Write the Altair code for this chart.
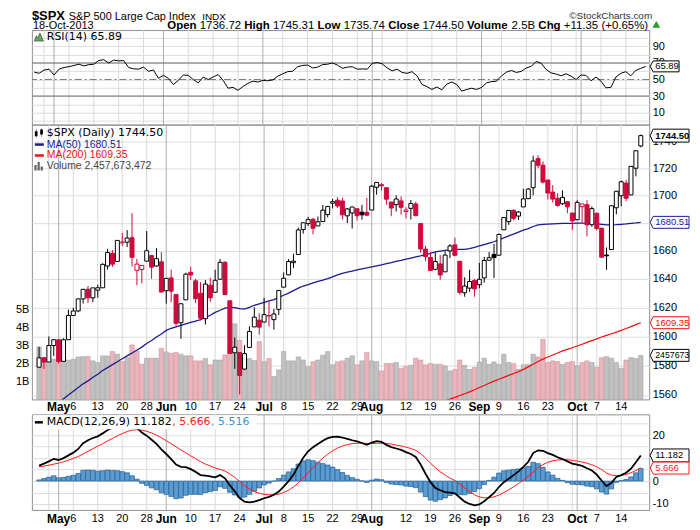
import altair as alt
import pandas as pd

# ---------------- values ----------------
open_ = [1578.78, 1585.16, 1582.34, 1593.58, 1597.55, 1582.77, 1597.60, 1614.40, 1617.55, 1625.95,
         1632.69, 1626.69, 1632.10, 1633.75, 1649.13, 1658.07, 1652.45, 1665.71, 1666.20, 1669.39,
         1646.08, 1646.67, 1652.63, 1656.57, 1649.14, 1652.13, 1631.71, 1640.73, 1629.05, 1609.29,
         1625.27, 1644.67, 1638.64, 1629.94, 1612.15, 1635.52, 1630.64, 1639.77, 1651.83, 1624.62,
         1588.62, 1588.77, 1577.52, 1592.27, 1606.44, 1611.12, 1609.78, 1614.29, 1611.48, 1618.65,
         1634.20, 1642.89, 1651.56, 1657.41, 1675.26, 1679.59, 1682.70, 1677.91, 1681.05, 1686.15,
         1694.41, 1696.63, 1696.06, 1685.21, 1687.31, 1690.32, 1687.92, 1687.76, 1689.42, 1706.10,
         1708.01, 1705.79, 1695.30, 1693.35, 1696.10, 1688.37, 1690.65, 1693.88, 1679.61, 1661.22,
         1655.25, 1646.81, 1650.66, 1645.03, 1659.92, 1664.29, 1652.54, 1630.25, 1633.50, 1638.89,
         1635.95, 1640.72, 1653.28, 1657.44, 1656.85, 1675.11, 1681.04, 1689.21, 1685.04, 1691.70,
         1697.73, 1705.74, 1727.34, 1722.44, 1711.44, 1702.60, 1698.02, 1694.05, 1695.52, 1687.26,
         1682.41, 1691.90, 1693.35, 1678.79, 1687.15, 1676.22, 1656.99, 1660.88, 1691.09, 1699.86,
         1709.17, 1700.49, 1720.17, 1736.72]
high = [1592.64, 1585.78, 1599.85, 1597.57, 1597.55, 1598.60, 1618.46, 1619.77, 1626.03, 1632.78,
        1635.01, 1633.70, 1636.00, 1651.10, 1661.49, 1660.51, 1667.47, 1672.84, 1674.93, 1687.18,
        1654.19, 1649.78, 1674.21, 1656.57, 1661.91, 1658.99, 1640.42, 1646.53, 1629.31, 1622.56,
        1644.40, 1648.69, 1640.13, 1637.71, 1639.25, 1640.80, 1646.50, 1654.19, 1652.45, 1624.62,
        1599.19, 1588.77, 1593.79, 1606.83, 1620.07, 1615.94, 1626.61, 1624.26, 1618.97, 1632.07,
        1644.68, 1654.18, 1657.92, 1676.63, 1680.19, 1684.51, 1683.73, 1684.75, 1693.12, 1692.09,
        1697.61, 1698.78, 1698.38, 1690.94, 1691.85, 1690.92, 1693.19, 1698.43, 1707.85, 1709.67,
        1709.24, 1705.79, 1695.30, 1700.18, 1699.42, 1691.49, 1696.81, 1695.52, 1679.61, 1663.60,
        1659.18, 1658.92, 1656.99, 1659.55, 1664.85, 1669.51, 1652.54, 1641.18, 1646.41, 1640.08,
        1651.35, 1655.72, 1659.17, 1664.83, 1672.40, 1684.09, 1689.13, 1689.97, 1688.73, 1704.95,
        1705.52, 1729.44, 1729.86, 1725.23, 1711.44, 1707.63, 1701.71, 1703.85, 1695.52, 1687.26,
        1696.55, 1693.87, 1696.63, 1691.94, 1687.15, 1676.79, 1662.40, 1692.56, 1703.44, 1711.03,
        1711.57, 1721.76, 1733.45, 1745.31]
low = [1578.78, 1577.56, 1582.34, 1586.50, 1581.28, 1582.77, 1597.60, 1614.21, 1616.64, 1622.70,
       1623.09, 1623.71, 1626.74, 1633.75, 1646.68, 1648.60, 1652.45, 1663.52, 1662.67, 1648.86,
       1635.53, 1636.88, 1652.63, 1640.05, 1648.61, 1630.74, 1622.72, 1623.62, 1607.09, 1598.23,
       1625.27, 1639.26, 1622.92, 1610.92, 1608.07, 1623.96, 1630.34, 1639.77, 1628.91, 1588.09,
       1577.70, 1560.33, 1577.09, 1592.27, 1606.44, 1601.06, 1609.78, 1606.77, 1604.57, 1614.71,
       1634.20, 1642.89, 1647.66, 1657.41, 1672.33, 1677.89, 1671.84, 1677.91, 1681.05, 1684.08,
       1690.67, 1691.13, 1682.57, 1680.07, 1676.03, 1681.86, 1682.42, 1684.94, 1689.42, 1700.68,
       1703.55, 1693.29, 1684.91, 1688.38, 1686.02, 1683.35, 1682.62, 1684.83, 1658.59, 1652.61,
       1646.06, 1646.08, 1639.43, 1645.03, 1654.81, 1656.02, 1629.05, 1627.47, 1630.88, 1627.47,
       1633.41, 1637.41, 1653.07, 1640.62, 1656.85, 1675.11, 1678.70, 1681.96, 1682.22, 1691.70,
       1697.73, 1700.18, 1720.20, 1708.89, 1697.10, 1694.90, 1691.88, 1693.11, 1687.11, 1674.99,
       1682.07, 1680.34, 1670.36, 1677.33, 1674.70, 1655.03, 1646.47, 1660.88, 1686.26, 1692.13,
       1695.93, 1700.49, 1714.12, 1735.74]
close = [1585.16, 1582.24, 1593.61, 1597.57, 1582.70, 1597.59, 1614.42, 1617.50, 1625.96, 1632.69,
         1626.67, 1633.70, 1633.77, 1650.34, 1658.78, 1650.47, 1667.47, 1666.29, 1669.16, 1655.35,
         1650.51, 1649.60, 1660.06, 1648.36, 1654.41, 1630.74, 1640.42, 1631.38, 1608.90, 1622.56,
         1643.38, 1642.81, 1626.13, 1612.52, 1636.36, 1626.73, 1639.04, 1651.81, 1628.93, 1588.19,
         1592.43, 1573.09, 1588.03, 1603.26, 1613.20, 1606.28, 1614.96, 1614.08, 1615.41, 1631.89,
         1640.46, 1652.32, 1652.62, 1675.02, 1680.19, 1682.50, 1676.26, 1680.91, 1689.37, 1692.09,
         1695.53, 1692.39, 1685.94, 1690.25, 1691.65, 1685.33, 1685.96, 1685.73, 1706.87, 1709.67,
         1707.14, 1697.37, 1690.91, 1697.48, 1691.42, 1689.47, 1694.16, 1685.39, 1661.32, 1655.83,
         1646.06, 1652.35, 1642.80, 1656.96, 1663.50, 1656.78, 1630.48, 1634.96, 1638.17, 1632.97,
         1639.77, 1653.08, 1655.08, 1655.17, 1671.71, 1683.99, 1689.13, 1683.42, 1687.99, 1697.60,
         1704.76, 1725.52, 1722.34, 1709.91, 1701.84, 1697.42, 1692.77, 1698.67, 1691.75, 1681.55,
         1695.00, 1693.87, 1678.66, 1690.50, 1676.12, 1655.45, 1656.40, 1692.56, 1703.20, 1710.14,
         1698.06, 1721.54, 1733.15, 1744.50]
PREV_CLOSE = 1578.79  # close of the day before the first candle

volume_bn = [2.93, 2.33, 2.15, 2.24, 2.60, 2.19, 2.19, 2.24, 2.37, 2.39,
             2.39, 2.15, 2.06, 2.43, 2.43, 2.67, 2.52, 2.11, 2.33, 3.04,
             2.70, 1.96, 2.30, 2.30, 2.30, 2.85, 2.65, 2.57, 2.61, 2.52,
             2.43, 2.43, 2.15, 2.15, 2.28, 1.93, 2.20, 2.20, 2.48, 2.74,
             4.22, 3.30, 2.43, 2.28, 2.17, 3.22, 2.10, 2.28, 1.28, 1.65,
             2.67, 2.15, 2.15, 2.37, 2.20, 1.83, 2.10, 2.20, 2.46, 2.67,
             1.93, 2.10, 2.15, 2.30, 2.43, 1.93, 2.15, 2.61, 2.15, 2.11,
             1.59, 2.00, 2.00, 2.06, 1.74, 1.85, 1.90, 2.30, 2.20, 1.93,
             2.00, 1.96, 1.96, 1.87, 1.59, 1.67, 2.20, 1.90, 1.67, 1.78,
             2.09, 2.30, 1.96, 2.09, 1.96, 2.52, 2.06, 2.00, 1.67, 1.93,
             1.96, 2.52, 2.37, 3.35, 2.06, 2.15, 2.11, 1.96, 2.06, 2.11,
             1.87, 2.06, 2.15, 2.06, 1.78, 2.33, 2.39, 2.30, 2.06, 1.74,
             2.20, 2.33, 2.28, 2.457673472]

ma50 = [1547.0, 1549.0, 1551.5, 1553.5, 1555.0, 1557.5, 1560.0, 1562.5, 1565.0, 1567.5,
        1569.5, 1572.0, 1574.0, 1576.5, 1578.5, 1580.5, 1582.5, 1584.5, 1586.5, 1588.5,
        1590.5, 1592.5, 1595.0, 1597.0, 1599.5, 1601.5, 1604.0, 1605.5, 1606.5, 1607.5,
        1608.5, 1609.5, 1610.5, 1611.5, 1613.0, 1614.5, 1616.5, 1618.0, 1619.5, 1620.0,
        1619.8, 1619.2, 1618.8, 1620.0, 1621.5, 1622.5, 1623.5, 1624.5, 1625.5, 1627.0,
        1628.5, 1630.0, 1631.8, 1633.5, 1635.0, 1636.0, 1637.2, 1638.2, 1639.2, 1640.3,
        1641.5, 1642.8, 1644.0, 1644.8, 1645.5, 1646.5, 1647.2, 1647.8, 1648.5, 1649.3,
        1650.0, 1650.8, 1651.6, 1652.5, 1653.2, 1654.0, 1654.8, 1655.6, 1656.4, 1657.3,
        1658.2, 1659.2, 1659.8, 1660.3, 1660.7, 1661.0, 1661.0, 1661.0, 1661.6, 1662.5,
        1663.5, 1664.5, 1665.5, 1666.5, 1668.0, 1669.3, 1670.7, 1672.0, 1673.4, 1674.8,
        1676.0, 1677.5, 1678.6, 1679.0, 1679.2, 1679.4, 1679.6, 1679.7, 1679.8, 1679.8,
        1679.9, 1679.9, 1679.8, 1679.8, 1679.5, 1679.1, 1678.7, 1678.6, 1678.8, 1679.1,
        1679.4, 1679.8, 1680.1, 1680.51]

MA200_START = 80  # first index at which the 200-day line is drawn
ma200 = [1552.5, 1553.6, 1554.8, 1556.0, 1557.2, 1558.4, 1559.6, 1560.8, 1562.1, 1563.5,
         1565.0, 1566.4, 1567.9, 1569.3, 1570.6, 1571.9, 1573.2, 1574.5, 1575.8, 1577.3,
         1579.0, 1580.8, 1582.6, 1584.3, 1585.7, 1587.1, 1588.5, 1589.9, 1591.0, 1592.1,
         1593.3, 1594.5, 1595.8, 1597.0, 1598.2, 1599.5, 1600.6, 1601.7, 1602.8, 1604.0,
         1605.3, 1606.6, 1608.0, 1609.35]

rsi = [59, 57.5, 61.5, 62.5, 55.5, 62.5, 64.5, 65.5, 67, 68.5,
       66.5, 68, 68.5, 73, 74, 70, 73.5, 72.5, 73, 64.5,
       63, 62.5, 65, 60, 61.5, 51.5, 55, 51.5, 44, 49,
       55.5, 55, 50, 46, 53, 50, 53, 56, 49, 39.5,
       40.5, 37, 41.5, 45.5, 48, 47, 49, 48.5, 49.5, 54,
       57, 59.5, 60, 65.5, 67, 67.5, 64, 65, 68, 68.5,
       70, 67.5, 63.5, 65, 65.5, 62.5, 62.8, 62.5, 69.5, 70.5,
       69, 64, 60.5, 62.5, 58.5, 57.5, 59.5, 54.5, 44, 41.5,
       38, 41, 37.5, 44.5, 47, 44, 36, 38, 39.5, 38,
       40.5, 46, 47.5, 48, 54.5, 59, 61, 58.5, 60, 64,
       66, 72, 69.5, 62, 58, 56.5, 54.5, 57, 54, 50,
       55.5, 55, 48.5, 53, 48, 40, 40.5, 53, 57.5, 59.5,
       54.5, 61, 63.5, 65.89]

macd = [6.7, 7.6, 8.6, 9.7, 9.2, 10.0, 11.2, 12.4, 14.0, 16.5,
        17.8, 18.8, 19.5, 20.8, 22.3, 23.2, 24.2, 24.8, 25.2, 24.5,
        23.2, 21.2, 19.8, 18.0, 16.2, 13.8, 11.8, 9.6, 7.2, 6.2,
        6.1, 5.2, 4.0, 2.6, 2.4, 2.0, 1.6, 2.6, 1.2, -1.8,
        -4.5, -7.4, -9.0, -9.3, -9.0, -8.3, -7.5, -6.9, -6.0, -4.6,
        -2.4, 0.0, 2.8, 6.6, 10.2, 13.0, 14.8, 16.2, 17.6, 18.7,
        19.3, 19.4, 19.0, 18.4, 17.8, 17.3, 16.6, 15.8, 16.8, 17.4,
        17.1, 15.8, 14.8, 14.2, 13.6, 12.6, 11.8, 10.5, 7.2, 3.2,
        -0.5, -3.0, -4.0, -4.8, -5.0, -5.4, -7.2, -9.0, -10.0, -10.6,
        -10.2, -8.8, -7.0, -5.2, -2.6, -0.5, 1.0, 2.6, 4.2, 6.2,
        8.4, 12.2, 13.4, 13.2, 12.2, 11.4, 10.4, 9.6, 8.6, 7.6,
        7.2, 6.6, 5.6, 4.6, 2.8, 0.2, -2.2, -0.8, 1.8, 2.6,
        3.6, 5.4, 8.2, 11.182]
signal = [6.2, 6.5, 6.9, 7.4, 7.8, 8.4, 9.1, 9.9, 10.7, 11.8,
          13.0, 14.1, 15.2, 16.3, 17.5, 18.6, 19.7, 20.7, 21.6, 22.2,
          22.4, 22.2, 21.7, 21.0, 20.0, 18.9, 17.6, 16.3, 14.9, 13.6,
          12.3, 11.0, 9.8, 8.5, 7.4, 6.6, 5.7, 5.1, 4.4, 3.1,
          1.6, -0.2, -2.0, -3.5, -4.6, -5.3, -5.8, -6.0, -6.0, -5.7,
          -5.0, -4.0, -2.6, -0.8, 1.4, 3.7, 5.9, 8.0, 10.0, 11.7,
          13.2, 14.4, 15.3, 15.9, 16.3, 16.5, 16.5, 16.4, 16.4, 16.5,
          16.5, 16.4, 16.1, 15.7, 15.3, 14.8, 14.2, 13.4, 12.0, 10.0,
          7.8, 5.8, 4.1, 2.6, 1.3, 0.2, -1.3, -3.0, -4.6, -6.0,
          -6.9, -7.3, -7.3, -6.9, -6.1, -5.0, -3.8, -2.5, -1.1, 0.4,
          2.0, 4.0, 5.8, 7.2, 8.2, 8.8, 9.2, 9.3, 9.3, 9.0,
          8.7, 8.3, 7.8, 7.1, 6.2, 5.0, 3.5, 2.6, 2.4, 2.4,
          2.9, 3.6, 4.6, 5.666]
histogram = [0.5, 1.1, 1.7, 2.3, 1.4, 1.6, 2.1, 2.5, 3.3, 4.7,
             4.8, 4.7, 4.3, 4.5, 4.8, 4.6, 4.5, 4.1, 3.6, 2.3,
             0.8, -1.0, -1.9, -3.0, -3.8, -5.1, -5.8, -6.7, -7.7, -7.4,
             -6.2, -5.8, -5.8, -5.9, -5.0, -4.6, -4.1, -2.5, -3.2, -4.9,
             -6.1, -7.2, -7.0, -5.8, -4.4, -3.0, -1.7, -0.9, 0.0, 1.1,
             2.6, 4.0, 5.4, 7.4, 8.8, 9.3, 8.9, 8.2, 7.6, 7.0,
             6.1, 5.0, 3.7, 2.5, 1.5, 0.8, 0.1, -0.6, 0.4, 0.9,
             0.6, -0.6, -1.3, -1.5, -1.7, -2.2, -2.4, -2.9, -4.8, -6.8,
             -8.3, -8.8, -8.1, -7.4, -6.3, -5.6, -5.9, -6.0, -5.4, -4.6,
             -3.3, -1.5, 0.3, 1.7, 3.5, 4.5, 4.8, 5.1, 5.3, 5.8,
             6.4, 8.2, 7.6, 6.0, 4.0, 2.6, 1.2, 0.3, -0.7, -1.4,
             -1.5, -1.7, -2.2, -2.5, -3.4, -4.8, -5.7, -3.4, -0.6, 0.2,
             0.7, 1.8, 3.6, 5.516]

week_ticks = [2, 7, 12, 17, 22, 31, 36, 41, 50, 55, 60, 65, 70, 75, 80, 85, 94, 99, 104, 109, 114, 119]
month_ticks = [4, 26, 46, 68, 90, 110]
tick_idx = [4, 7, 12, 17, 22, 26, 31, 36, 41, 46, 50, 55, 60, 65, 68, 75, 80, 85, 90, 94, 99, 104, 110, 114, 119]
tick_txt = ["May", "6", "13", "20", "28", "Jun", "10", "17", "24", "Jul", "8", "15", "22", "29", "Aug",
            "12", "19", "26", "Sep", "9", "16", "23", "Oct", "7", "14"]
month_names = ["May", "Jun", "Jul", "Aug", "Sep", "Oct"]

header_tokens = [("Open", True), ("1736.72", False), ("High", True), ("1745.31", False),
                 ("Low", True), ("1735.74", False), ("Close", True), ("1744.50", False),
                 ("Volume", True), ("2.5B", False), ("Chg", True), ("+11.35 (+0.65%)", False)]

# ---------------- styling ----------------
W, H_RSI, H_MAIN, H_GAP, H_MACD = 620, 95, 276, 15, 96
FONT = "DejaVu Sans"
AXF = "Liberation Sans"
RED = "#cf0a3c"
NAVY = "#1b1b8f"
MA200C = "#ee1111"
HBLUE = "#5a9bd2"

X_S = alt.Scale(domain=[-0.45, 123.7], nice=False, zero=False)
RSI_S = alt.Scale(domain=[-4.5, 109.8], nice=False, zero=False)
PRICE_S = alt.Scale(type="log", domain=[1557, 1752.8], nice=False)
VOL_S = alt.Scale(domain=[0, 15.33e9], nice=False, zero=False)
MACD_S = alt.Scale(domain=[-12.6, 29.1], nice=False, zero=False)

n = len(close)
prev = [PREV_CLOSE] + close[:-1]
down = [c < p for c, p in zip(close, prev)]
df = pd.DataFrame({
    "i": list(range(n)), "o": open_, "h": high, "l": low, "c": close,
    "vol": [v * 1e9 for v in volume_bn], "ma50": ma50, "rsi": rsi,
    "macd": macd, "sig": signal, "hist": histogram,
})
df["col"] = [RED if d else "#000000" for d in down]
df["body"] = [col if c < o else "#ffffff" for col, c, o in zip(df["col"], close, open_)]
df["vfill"] = ["#e8b7bd" if d else "#c1c1c1" for d in down]
df["vline"] = ["#d98d98" if d else "#a3a3a3" for d in down]

ma200_df = pd.DataFrame({"i": list(range(MA200_START, MA200_START + len(ma200))), "v": ma200})
grid_df = pd.DataFrame({"i": week_ticks + month_ticks,
                        "gc": ["#dadada"] * len(week_ticks) + ["#acacac"] * len(month_ticks)})
lab_df = pd.DataFrame({"i": tick_idx, "t": tick_txt})
lab_df["b"] = lab_df["t"].isin(month_names)
ONE = pd.DataFrame({"k": [0]})

# approximate Arial (Liberation Sans) advance widths, in em, for laying out the header tokens
W_REG = {**{d: 0.556 for d in "0123456789"}, ".": 0.278, "+": 0.584, "(": 0.333, ")": 0.333,
         "%": 0.889, " ": 0.278, "B": 0.667}
W_BOLD = {"O": 0.778, "p": 0.611, "e": 0.556, "n": 0.611, "H": 0.722, "i": 0.278, "g": 0.611,
          "h": 0.611, "L": 0.611, "o": 0.611, "w": 0.778, "C": 0.722, "l": 0.278, "s": 0.556,
          "V": 0.667, "u": 0.611, "m": 0.889}


def X():
    return alt.X("i:Q", scale=X_S, axis=None)


def vgrid():
    return alt.Chart(grid_df).mark_rule(strokeWidth=1).encode(x=X(), color=alt.Color("gc:N", scale=None))


def label(text, x, y, size=11, weight="normal", color="#000000", font=FONT, align="left", baseline="middle"):
    return alt.Chart(ONE).mark_text(text=text, fontSize=size, fontWeight=weight, color=color, font=font,
                                    align=align, baseline=baseline).encode(x=alt.value(x), y=alt.value(y))


def icon(path, x, y, s, fill, stroke=None):
    kw = dict(shape=path, size=(2 * s) ** 2, filled=True, fill=fill, opacity=1)
    if stroke:
        kw.update(stroke=stroke, strokeWidth=0.8)
    return alt.Chart(ONE).mark_point(**kw).encode(x=alt.value(x), y=alt.value(y))


def tag(value, text, color, scale, xc, s, half_h, tip_px, text_x, size=9.5, weight="normal"):
    d = pd.DataFrame({"v": [value]})
    hh = half_h / s
    tip = 1 + tip_px / s
    path = f"M{-tip:.3f},0L-1,{-hh:.3f}L1,{-hh:.3f}L1,{hh:.3f}L-1,{hh:.3f}Z"
    box = alt.Chart(d).mark_point(shape=path, size=(2 * s) ** 2, filled=True, fill="white", stroke=color,
                                  strokeWidth=1, opacity=1).encode(
        x=alt.value(xc), y=alt.Y("v:Q", scale=scale, axis=None))
    t = alt.Chart(d).mark_text(text=text, align="left", baseline="middle", fontSize=size, fontWeight=weight,
                               color=color, font=AXF).encode(
        x=alt.value(text_x), y=alt.Y("v:Q", scale=scale, axis=None))
    return [box, t]


def xlabels(y):
    b = alt.Chart(lab_df[lab_df["b"]]).mark_text(font=AXF, fontSize=12, fontWeight="bold", baseline="middle",
                                                 color="#000").encode(x=X(), y=alt.value(y), text="t:N")
    r = alt.Chart(lab_df[~lab_df["b"]]).mark_text(font=AXF, fontSize=11, baseline="middle",
                                                  color="#000").encode(x=X(), y=alt.value(y), text="t:N")
    return [b, r]


# tag geometry (pixels from the panel's left edge): box 624..660, arrow tip at 621
TAG_C, TAG_S, TAG_TX = 642, 18, 626

# ---------------- RSI panel (with page header) ----------------
rsi_axis = alt.Axis(orient="right", values=list(range(0, 101, 10)),
                    labelExpr="datum.value % 20 == 10 ? datum.label : ''", grid=True, gridColor="#dddddd",
                    ticks=False, domain=False, labelPadding=3, title=None)
rsi_layers = [
    vgrid(),
    alt.Chart(pd.DataFrame({"v": [70, 30]})).mark_rule(color="#6e6e6e", strokeWidth=1).encode(
        y=alt.Y("v:Q", scale=RSI_S, axis=None)),
    alt.Chart(pd.DataFrame({"v": [50]})).mark_rule(color="#7a7a7a", strokeWidth=1, strokeDash=[7, 3, 2, 3]).encode(
        y=alt.Y("v:Q", scale=RSI_S, axis=None)),
    alt.Chart(df).mark_line(color="black", strokeWidth=1, clip=True).encode(
        x=X(), y=alt.Y("rsi:Q", scale=RSI_S, axis=rsi_axis)),
    icon("M-1,0.9L-0.55,-0.3L-0.25,0.2L0.25,-0.9L1,0.9Z", 7, 7, 4.5, "#6f9c6f", "#3b6b3b"),
    label("RSI(14) 65.89", 15, 7.5, 11),
    # header
    label("$SPX", 0, -10.5, 13, "bold", font=AXF, baseline="alphabetic"),
    label("S&P 500 Large Cap Index", 37, -10.5, 11, font=AXF, baseline="alphabetic"),
    label("INDX", 171, -10.5, 10, font=AXF, baseline="alphabetic"),
    label("\u00a9StockCharts.com", 623, -11, 10, color="#333333", font=AXF, align="right", baseline="alphabetic"),
    label("18-Oct-2013", 1, -1.5, 11, font=AXF, baseline="alphabetic"),
]
HDR_SIZE = 11.5
hx = 136.0
for text, bold in header_tokens:
    table = W_BOLD if bold else W_REG
    rsi_layers.append(label(text, round(hx, 1), -1.5, HDR_SIZE, "bold" if bold else "normal", font=AXF,
                            baseline="alphabetic"))
    hx += sum(table.get(ch, 0.6) for ch in text) * HDR_SIZE + 0.278 * HDR_SIZE
rsi_layers.append(icon("M-1,0.8L0,-0.9L1,0.8Z", round(hx + 4, 1), -5.5, 4, "#2e9a2e"))
rsi_layers += tag(65.89, "65.89", "#000000", RSI_S, 637, 13, 5.5, 3, TAG_TX, 9.5)

rsi_panel = alt.layer(*rsi_layers).resolve_scale(y="independent").properties(width=W, height=H_RSI)

# ---------------- main price panel ----------------
price_axis = alt.Axis(orient="right", values=list(range(1560, 1741, 20)), labelExpr="'' + datum.value",
                      grid=True, gridColor="#dddddd", ticks=False, domain=False, labelPadding=3, title=None)
vol_axis = alt.Axis(orient="left", values=[1e9, 2e9, 3e9, 4e9, 5e9], labelExpr="(datum.value / 1e9) + 'B'",
                    grid=False, ticks=False, domain=False, labelPadding=3, title=None)
main_layers = [
    vgrid(),
    alt.Chart(df).mark_bar(size=4.4, strokeWidth=0.6).encode(
        x=X(), y=alt.Y("vol:Q", scale=VOL_S, axis=vol_axis), y2=alt.datum(0),
        fill=alt.Fill("vfill:N", scale=None), stroke=alt.Stroke("vline:N", scale=None)),
    alt.Chart(ma200_df).mark_line(color=MA200C, strokeWidth=1.2, clip=True).encode(
        x=X(), y=alt.Y("v:Q", scale=PRICE_S, axis=None)),
    alt.Chart(df).mark_line(color=NAVY, strokeWidth=1.3, clip=True).encode(
        x=X(), y=alt.Y("ma50:Q", scale=PRICE_S, axis=None)),
    alt.Chart(df).mark_rule(strokeWidth=1, clip=True).encode(
        x=X(), y=alt.Y("l:Q", scale=PRICE_S, axis=None), y2="h:Q", color=alt.Color("col:N", scale=None)),
    alt.Chart(df).mark_bar(size=4, strokeWidth=1, clip=True).encode(
        x=X(), y=alt.Y("o:Q", scale=PRICE_S, axis=price_axis), y2="c:Q",
        fill=alt.Fill("body:N", scale=None), stroke=alt.Stroke("col:N", scale=None)),
    icon("M-0.9,-0.4L-0.3,-0.4L-0.3,0.7L-0.9,0.7Z M0.3,-0.8L0.9,-0.8L0.9,0.3L0.3,0.3Z M-0.65,-0.9L-0.55,-0.9L-0.55,1L-0.65,1Z M0.55,-1L0.65,-1L0.65,0.8L0.55,0.8Z",
         7, 8.5, 4.5, "#000000"),
    label("$SPX (Daily) 1744.50", 15, 8.5, 11),
    alt.Chart(ONE).mark_rule(color=NAVY, strokeWidth=2.5).encode(x=alt.value(3), x2=alt.value(12), y=alt.value(20)),
    label("MA(50) 1680.51", 15, 20, 10.5, color=NAVY, font=AXF),
    alt.Chart(ONE).mark_rule(color=MA200C, strokeWidth=2.5).encode(x=alt.value(3), x2=alt.value(12), y=alt.value(31)),
    label("MA(200) 1609.35", 15, 31, 10.5, color=MA200C, font=AXF),
    icon("M-1,1L-1,-0.2L-0.5,-0.2L-0.5,1Z M-0.3,1L-0.3,-0.9L0.2,-0.9L0.2,1Z M0.4,1L0.4,0.1L0.9,0.1L0.9,1Z",
         7, 41.5, 4.5, "#666666"),
    label("Volume 2,457,673,472", 15, 41.5, 10.5, color="#444444", font=AXF),
]
main_layers += tag(1744.50, "1744.50", "#000000", PRICE_S, TAG_C, TAG_S, 6.5, 3, TAG_TX, 9.5, "bold")
main_layers += tag(1680.51, "1680.51", NAVY, PRICE_S, TAG_C, TAG_S, 6, 3, TAG_TX)
main_layers += tag(1609.35, "1609.35", MA200C, PRICE_S, TAG_C, TAG_S, 6, 3, TAG_TX)
main_layers += tag(2457673472, "2457673", "#000000", VOL_S, TAG_C, TAG_S, 6, 3, TAG_TX, 8.8)
main_layers += xlabels(H_MAIN + 8)

main_panel = alt.layer(*main_layers).resolve_scale(y="independent").properties(width=W, height=H_MAIN)

# ---------------- gap between price and MACD panels ----------------
gap = alt.Chart(ONE).mark_point(opacity=0).encode(x=alt.value(0), y=alt.value(0)).properties(
    width=W, height=H_GAP, view=alt.ViewBackground(stroke="transparent", fill="transparent"))

# ---------------- MACD panel ----------------
macd_axis = alt.Axis(orient="right", values=[-10, -5, 0, 5, 10, 15, 20, 25],
                     labelExpr="datum.value % 10 == 0 ? '' + datum.value : ''", grid=True, gridColor="#dddddd",
                     ticks=False, domain=False, labelPadding=3, title=None)
macd_layers = [
    vgrid(),
    alt.Chart(df).mark_bar(size=4.6, strokeWidth=0.7, fill=HBLUE, stroke="#245f90").encode(
        x=X(), y=alt.Y("hist:Q", scale=MACD_S, axis=macd_axis), y2=alt.datum(0)),
    alt.Chart(df).mark_line(color="#ff1a1a", strokeWidth=1, clip=True).encode(
        x=X(), y=alt.Y("sig:Q", scale=MACD_S, axis=None)),
    alt.Chart(df).mark_line(color="black", strokeWidth=1.8, clip=True).encode(
        x=X(), y=alt.Y("macd:Q", scale=MACD_S, axis=None)),
    alt.Chart(ONE).mark_rect(color="white").encode(x=alt.value(1), x2=alt.value(226), y=alt.value(1), y2=alt.value(15)),
    alt.Chart(ONE).mark_rule(color="black", strokeWidth=2.5).encode(x=alt.value(3), x2=alt.value(11), y=alt.value(8)),
    label("MACD(12,26,9) 11.182", 15, 8, 11),
    label(", 5.666", 141, 8, 11, color="#ff1a1a"),
    label(", 5.516", 180, 8, 11, color="#3a95cf"),
]
macd_layers += tag(11.182, "11.182", "#000000", MACD_S, TAG_C, TAG_S, 6.5, 3, TAG_TX)
macd_layers += tag(5.666, "5.666", "#ff1a1a", MACD_S, TAG_C, TAG_S, 6, 3, TAG_TX)
macd_layers += xlabels(H_MACD + 9)

macd_panel = alt.layer(*macd_layers).resolve_scale(y="independent").properties(width=W, height=H_MACD)

chart = alt.vconcat(rsi_panel, main_panel, gap, macd_panel, spacing=0, bounds="flush").properties(
    padding={"left": 7, "top": 0, "right": 0, "bottom": 0}
).configure_view(stroke="#8f8f8f", strokeWidth=1).configure_axis(
    labelFont=AXF, labelFontSize=11, labelColor="#000000"
)

chart.save("out.html", embed_options={"renderer": "svg", "actions": False})
